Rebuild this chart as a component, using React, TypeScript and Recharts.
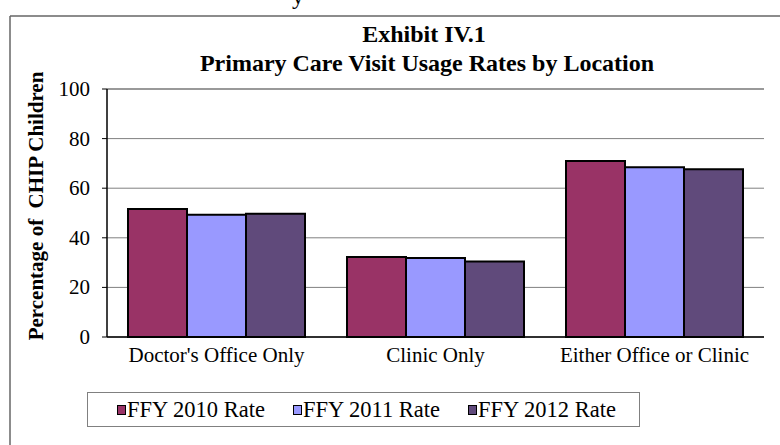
import { Bar, BarChart, CartesianGrid, ReferenceLine, XAxis, YAxis } from 'recharts';

const categories = ["Doctor's Office Only", 'Clinic Only', 'Either Office or Clinic'];
const rate2010 = [51.6, 32.3, 71.0];
const rate2011 = [49.3, 31.9, 68.4];
const rate2012 = [49.7, 30.4, 67.6];
const seriesNames = ['FFY 2010 Rate', 'FFY 2011 Rate', 'FFY 2012 Rate'];
const seriesColors = ['#993366', '#9999FF', '#604A7B'];
const yTicks = [0, 20, 40, 60, 80, 100];
const boundaryTicks = [0, 1, 2, 3];

const titleLines = ['Exhibit IV.1', 'Primary Care Visit Usage Rates by Location'];
const yLabel = 'Percentage of \u00a0CHIP Children';

const data = categories.map((name, i) => ({
  name,
  r2010: rate2010[i],
  r2011: rate2011[i],
  r2012: rate2012[i],
}));
const keys = ['r2010', 'r2011', 'r2012'];

const font = 'Liberation Serif, Times New Roman, serif';

function XTick(props: any) {
  const { x, y, payload } = props;
  return (
    <text x={x} y={y + 15} textAnchor="middle" fontFamily={font} fontSize={21} fill="#000">
      {payload.value}
    </text>
  );
}

function YTick(props: any) {
  const { x, y, payload } = props;
  return (
    <text x={x} y={y + 7} textAnchor="end" fontFamily={font} fontSize={21} fill="#000">
      {payload.value}
    </text>
  );
}

export default function App() {
  return (
    <div style={{ position: 'absolute', left: 0, top: 0, width: 780, height: 445, background: '#fff', fontFamily: font }}>
      <svg width={780} height={445} style={{ position: 'absolute', left: 0, top: 0 }}>
        {/* frame of the exhibit, cut by the picture edge */}
        <line x1={10} y1={16} x2={780} y2={16} stroke="#666" strokeWidth={1.5} />
        <line x1={10} y1={16} x2={10} y2={445} stroke="#666" strokeWidth={1.5} />
        <text x={292} y={4} fontFamily={font} fontSize={24} fill="#000">y</text>
        <text x={424} y={42} textAnchor="middle" fontFamily={font} fontSize={24} fontWeight="bold">{titleLines[0]}</text>
        <text x={427} y={71} textAnchor="middle" fontFamily={font} fontSize={24} fontWeight="bold">{titleLines[1]}</text>
        <text
          x={43}
          y={206}
          transform="rotate(-90, 43, 206)"
          textAnchor="middle"
          fontFamily={font}
          fontSize={21}
          fontWeight="bold"
        >
          {yLabel}
        </text>
      </svg>
      <div style={{ position: 'absolute', left: 0, top: 0 }}>
        <BarChart
          width={780}
          height={445}
          data={data}
          margin={{ top: 89, right: 16, bottom: 78, left: 47 }}
          barCategoryGap={21}
          barGap={0}
        >
          <CartesianGrid vertical={false} stroke="#808080" strokeWidth={1} yAxisId="left" />
          <XAxis
            xAxisId="edges"
            type="number"
            domain={[0, 3]}
            ticks={boundaryTicks}
            tick={false}
            tickSize={6}
            tickLine={{ stroke: '#000' }}
            axisLine={false}
            height={0}
          />
          <XAxis
            xAxisId="cat"
            dataKey="name"
            height={30}
            tickLine={false}
            tickSize={0}
            tickMargin={10}
            axisLine={{ stroke: '#000', strokeWidth: 1.5 }}
            tick={<XTick />}
            interval={0}
          />
          <YAxis
            yAxisId="left"
            domain={[0, 100]}
            ticks={yTicks}
            width={60}
            tickSize={5}
            tickMargin={12}
            tickLine={{ stroke: '#000' }}
            axisLine={{ stroke: '#000', strokeWidth: 1.5 }}
            tick={<YTick />}
          />
          <YAxis
            yAxisId="right"
            orientation="right"
            domain={[0, 100]}
            width={0}
            tick={false}
            tickLine={false}
            axisLine={{ stroke: '#999', strokeWidth: 2 }}
          />
          <ReferenceLine y={100} yAxisId="left" xAxisId="cat" stroke="#999" strokeWidth={2} />
          {keys.map((k, i) => (
            <Bar
              key={k}
              dataKey={k}
              name={seriesNames[i]}
              xAxisId="cat"
              yAxisId="left"
              fill={seriesColors[i]}
              stroke="#000"
              strokeWidth={2}
              isAnimationActive={false}
            />
          ))}
        </BarChart>
      </div>
      <div
        style={{
          position: 'absolute',
          left: 87,
          top: 392,
          width: 553,
          height: 35,
          border: '1px solid #808080',
          boxSizing: 'border-box',
          display: 'flex',
          alignItems: 'center',
          paddingLeft: 29,
          gap: 28,
          fontSize: 22.5,
          fontFamily: font,
          color: '#000',
        }}
      >
        {seriesNames.map((n, i) => (
          <div key={n} style={{ display: 'flex', alignItems: 'center' }}>
            <span
              style={{
                display: 'inline-block',
                width: 7,
                height: 8,
                background: seriesColors[i],
                border: '1.5px solid #000',
                marginRight: 1,
              }}
            />
            <span>{n}</span>
          </div>
        ))}
      </div>
    </div>
  );
}
